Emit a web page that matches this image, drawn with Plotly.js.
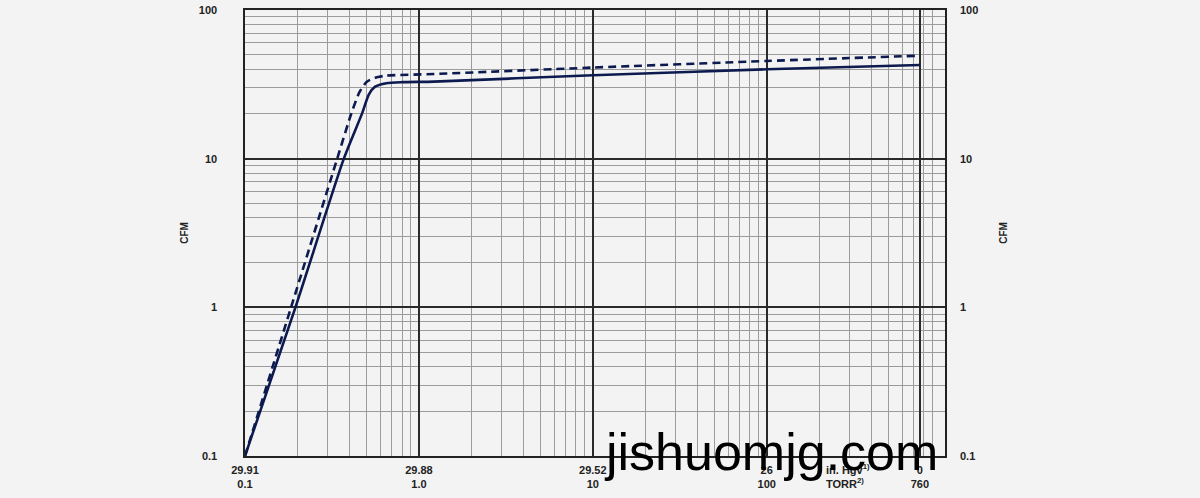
<!DOCTYPE html>
<html>
<head>
<meta charset="utf-8">
<script src="https://cdn.plot.ly/plotly-3.0.1.min.js"></script>
<style>
  html, body { margin: 0; padding: 0; background: #f3f3f3; }
  #chart { width: 1200px; height: 498px; }
</style>
</head>
<body>
<div id="chart"></div>
<script>
// Solid curve (pressure TORR vs CFM)
const solidX = [0.1, 0.195, 0.37, 0.47, 0.515, 0.56, 0.65, 0.8, 1.22, 10, 100, 760];
const solidY = [0.1, 1, 10, 20, 27, 30.5, 32.2, 32.7, 33, 36.4, 39.9, 42.7];
// Dashed curve
const dashX = [0.1, 0.184, 0.339, 0.409, 0.455, 0.5, 0.56, 0.65, 1.22, 10, 100, 760];
const dashY = [0.1, 1, 10, 20.2, 28, 32.8, 35, 36.2, 37.1, 41, 45.4, 49.3];

// Axis ticks
const xTickVals = [0.1, 1, 10, 100, 760];
const xTickText = ["29.91<br>0.1", "29.88<br>1.0", "29.52<br>10", "26<br>100", "0<br>760"];
const yTickVals = [0.1, 1, 10, 100];
const yTickText = ["0.1", "1", "10", "100"];
const unitLabel = "in. Hgv<sup>1)</sup><br>TORR<sup>2)</sup>";
const yTitle = "CFM";
const watermark = "jishuomjg.com";

// minor grid values (2..9 of each decade)
const xMinor = [];
[0.1, 1, 10, 100].forEach(d => { for (let k = 2; k <= 9; k++) xMinor.push(+(d * k).toPrecision(3)); });
const yMinor = [];
[0.1, 1, 10].forEach(d => { for (let k = 2; k <= 9; k++) yMinor.push(+(d * k).toPrecision(3)); });

const navy = "#0c1a50";
const tickFont = { family: "Liberation Sans, Arial, sans-serif", size: 11, color: "#222", weight: "bold" };

const traces = [
  { x: solidX, y: solidY, type: "scatter", mode: "lines",
    line: { color: navy, width: 2.6, shape: "spline", smoothing: 0.6 }, hoverinfo: "skip", showlegend: false },
  { x: dashX, y: dashY, type: "scatter", mode: "lines",
    line: { color: navy, width: 2.6, dash: "8px,5px", shape: "spline", smoothing: 0.6 }, hoverinfo: "skip", showlegend: false },
  { x: solidX, y: solidY, yaxis: "y2", type: "scatter", mode: "lines",
    line: { width: 0, color: "rgba(0,0,0,0)" }, hoverinfo: "skip", showlegend: false }
];

const layout = {
  width: 1200, height: 498,
  margin: { l: 245, r: 255, t: 10, b: 42 },
  paper_bgcolor: "#f3f3f3",
  plot_bgcolor: "#f3f3f3",
  showlegend: false,
  xaxis: {
    type: "log", range: [-1, 3.025], fixedrange: true,
    tickmode: "array", tickvals: xTickVals, ticktext: xTickText,
    tickfont: tickFont, ticks: "", ticklabelstandoff: 3,
    showgrid: true, gridcolor: "#2a2a2a", gridwidth: 1.8,
    minor: { tickmode: "array", tickvals: xMinor, showgrid: true, gridcolor: "#9c9c9c", gridwidth: 1, ticks: "" },
    showline: true, linecolor: "#222", linewidth: 1.6, mirror: true, zeroline: false
  },
  yaxis: {
    type: "log", range: [-1, 2], fixedrange: true,
    tickmode: "array", tickvals: yTickVals, ticktext: yTickText,
    tickfont: tickFont, ticks: "", ticklabelstandoff: 24,
    showgrid: true, gridcolor: "#2a2a2a", gridwidth: 1.8,
    minor: { tickmode: "array", tickvals: yMinor, showgrid: true, gridcolor: "#9c9c9c", gridwidth: 1, ticks: "" },
    showline: true, linecolor: "#222", linewidth: 1.6, mirror: true, zeroline: false,
    title: { text: yTitle, font: { family: "Liberation Sans, Arial, sans-serif", size: 10, color: "#222", weight: "bold" }, standoff: 8 }
  },
  yaxis2: {
    type: "log", range: [-1, 2], overlaying: "y", side: "right", fixedrange: true,
    tickmode: "array", tickvals: yTickVals, ticktext: yTickText,
    tickfont: tickFont, ticks: "", ticklabelstandoff: 14,
    showgrid: false, showline: false, zeroline: false,
    title: { text: yTitle, font: { family: "Liberation Sans, Arial, sans-serif", size: 10, color: "#222", weight: "bold" }, standoff: 22 }
  },
  annotations: [
    { text: unitLabel, xref: "paper", yref: "paper", x: 0.861, y: 0, xanchor: "center", yanchor: "top",
      yshift: -4, showarrow: false, align: "left",
      font: { family: "Liberation Sans, Arial, sans-serif", size: 11, color: "#222", weight: "bold" } },
    { text: watermark, xref: "paper", yref: "paper", x: 0.751, y: 0.01, xanchor: "center", yanchor: "middle",
      showarrow: false, font: { family: "Liberation Sans, Arial, sans-serif", size: 52, color: "#000" } }
  ]
};

Plotly.newPlot("chart", traces, layout, { displayModeBar: false, staticPlot: true });
</script>
</body>
</html>
